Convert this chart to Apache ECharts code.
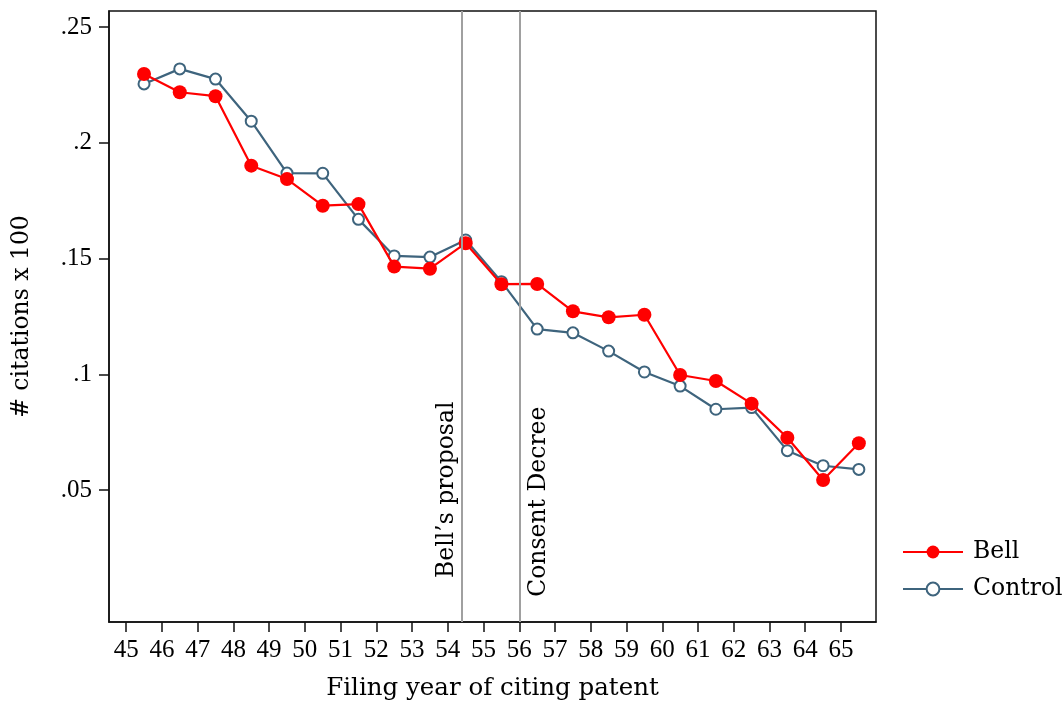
<!DOCTYPE html>
<html>
<head>
<meta charset="utf-8">
<script src="https://cdn.jsdelivr.net/npm/echarts@6/dist/echarts.min.js"></script>
<style>html,body{margin:0;padding:0;background:#fff;}#c{width:1063px;height:702px;}</style>
</head>
<body>
<div id="c"></div>
<script>
const years = [45.5,46.5,47.5,48.5,49.5,50.5,51.5,52.5,53.5,54.5,55.5,56.5,57.5,58.5,59.5,60.5,61.5,62.5,63.5,64.5,65.5];
const bell = [0.2297,0.2218,0.2201,0.1901,0.1843,0.1728,0.1735,0.1465,0.1456,0.1566,0.1389,0.1390,0.1272,0.1246,0.1257,0.0997,0.0971,0.0873,0.0726,0.0543,0.0702];
const control = [0.2254,0.2319,0.2275,0.2093,0.1869,0.1868,0.1669,0.1511,0.1506,0.1580,0.1400,0.1195,0.1179,0.1100,0.1010,0.0949,0.0849,0.0856,0.0670,0.0605,0.0589];
const xTicks = [45,46,47,48,49,50,51,52,53,54,55,56,57,58,59,60,61,62,63,64,65];
const yTicks = [0.05,0.1,0.15,0.2,0.25];
const events = [{x:54.4, label:"Bell\u2019s proposal"},{x:56, label:"Consent Decree"}];
const labelTop = 0.0895;

const yMin = -0.007, yMax = 0.2569;
const F = "DejaVu Serif";
const FT = "Liberation Serif";
const chart = echarts.init(document.getElementById('c'), null, {renderer:'canvas'});

const markData = [];
events.forEach((e,i)=>{
  markData.push({xAxis:e.x, label:{show:false}, lineStyle:{color:'#a0a0a0', width:2, type:'solid'}});
  markData.push([
    {coord:[e.x, yMin], label:{show:true, formatter:e.label, position: i===0?'insideEndTop':'insideEndBottom', distance: i===0?3:8, fontFamily:F, fontSize:23.5, color:'#000'}, lineStyle:{color:'rgba(0,0,0,0)', width:1}},
    {coord:[e.x, labelTop]}
  ]);
});

chart.setOption({
  animation:false,
  backgroundColor:'#fff',
  grid:{left:109, right:187, top:11, bottom:80, outerBoundsMode:'none', containLabel:false, show:true, borderColor:'#111', borderWidth:1.5, backgroundColor:'#fff'},
  xAxis:{
    type:'value', min:44.52, max:65.98,
    name:'Filing year of citing patent', nameLocation:'middle', nameGap:54,
    nameTextStyle:{fontFamily:F, fontSize:24.5, color:'#000'},
    axisLine:{show:true, onZero:false, lineStyle:{color:'#111', width:1.5}},
    axisTick:{show:true, length:10, customValues:xTicks, lineStyle:{color:'#111', width:1.5}},
    axisLabel:{customValues:xTicks, fontFamily:FT, fontSize:25, color:'#000', margin:16, formatter:v=>String(v)},
    splitLine:{show:false}
  },
  yAxis:{
    type:'value', min:yMin, max:yMax,
    name:'# citations x 100', nameLocation:'middle', nameGap:75, nameRotate:90,
    nameTextStyle:{fontFamily:F, fontSize:23.5, color:'#000'},
    axisLine:{show:true, onZero:false, lineStyle:{color:'#111', width:1.5}},
    axisTick:{show:true, length:10, customValues:yTicks, lineStyle:{color:'#111', width:1.5}},
    axisLabel:{customValues:yTicks, fontFamily:FT, fontSize:25, color:'#000', margin:17,
      formatter:v=>String(+v.toFixed(2)).replace(/^0\./,'.')},
    splitLine:{show:false}
  },
  legend:{
    orient:'vertical', left:897, top:535, itemGap:13, itemWidth:60, itemHeight:16,
    textStyle:{fontFamily:F, fontSize:23.5, color:'#000', padding:[0,0,0,5]},
    data:['Bell','Control']
  },
  series:[
    {name:'Bell', type:'line', data:years.map((x,i)=>[x,bell[i]]),
     symbol:'circle', symbolSize:14, z:3,
     lineStyle:{color:'#ff0000', width:2.2}, itemStyle:{color:'#ff0000', borderWidth:0}},
    {name:'Control', type:'line', data:years.map((x,i)=>[x,control[i]]),
     symbol:'emptyCircle', symbolSize:11, z:2,
     lineStyle:{color:'#3e647d', width:2.2}, itemStyle:{color:'#3e647d', borderColor:'#3e647d', borderWidth:2},
     markLine:{silent:true, symbol:['none','none'], animation:false, label:{show:true}, data:markData}}
  ]
});
</script>
</body>
</html>
